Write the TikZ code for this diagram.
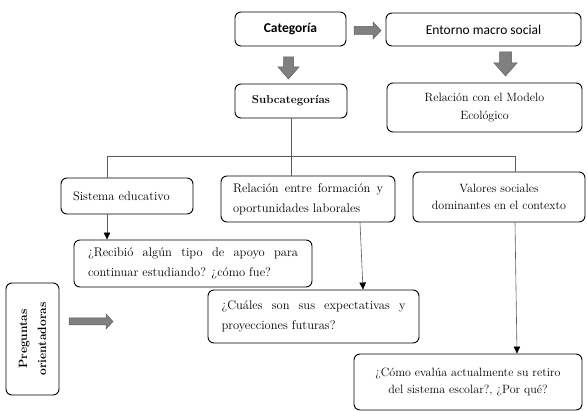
\documentclass[tikz,border=0pt]{standalone}
\usepackage{fontspec}
\newfontfamily\carlito{Carlito}
\usetikzlibrary{arrows.meta}
\definecolor{agray}{RGB}{128,128,128}
\definecolor{aedge}{RGB}{95,95,95}
\definecolor{lgray}{RGB}{90,90,90}
\hyphenpenalty=10000
\exhyphenpenalty=10000
\tolerance=9999
\begin{document}
\begin{tikzpicture}[x=1pt,y=-1pt,
  box/.style={draw=black, line width=0.9pt, rounded corners=6pt, inner sep=0pt, align=center},
  body/.style={font=\fontsize{12.5}{20}\selectfont},
  cbody/.style={font=\fontsize{12}{17.5}\selectfont},
  conn/.style={draw=lgray, line width=0.6pt},
  arr/.style={conn, -{Triangle[length=7pt,width=6.5pt,color=black]}},
  barrow/.style={fill=agray, draw=aedge, line width=0.5pt}
]
\useasboundingbox (0,0) rectangle (587,411);

% top boxes
\node[box, minimum width=111, minimum height=34, font=\carlito\bfseries\fontsize{13.5}{16}\selectfont] (cat) at (290.5,29) {Categoría};
\node[box, minimum width=195, minimum height=33, font=\carlito\fontsize{13.5}{16}\selectfont] (ent) at (483.5,29.5) {Entorno macro social};
\node[box, minimum width=112, minimum height=34, font=\bfseries\fontsize{11.5}{14}\selectfont] (sub) at (291,101) {Subcategorías};
\node[box, cbody, minimum width=195, minimum height=49] (rme) at (484.5,107.5) {Relación con el Modelo\\Ecológico};

% subcategory boxes
\node[box, body, minimum width=132, minimum height=36, text width=108, align=left] (sis) at (127,196) {Sistema educativo};
\node[box, body, minimum width=174, minimum height=46, text width=150, align=justify] (rel) at (308,199) {Relación entre formación y oportunidades laborales};
\node[box, cbody, minimum width=172, minimum height=50] (val) at (499,197) {Valores sociales\\dominantes en el contexto};

% question boxes
\node[box, body, minimum width=238, minimum height=47, text width=210, align=justify] (rec) at (193,263.5) {¿Recibió algún tipo de apoyo para continuar estudiando? ¿cómo fue?};
\node[box, body, minimum width=211, minimum height=53, text width=184, align=justify] (cua) at (313.5,316.5) {¿Cuáles son sus expectativas y proyecciones futuras?};
\node[box, cbody, minimum width=228, minimum height=56] (ret) at (468,382) {¿Cómo evalúa actualmente su retiro\\del sistema escolar?, ¿Por qué?};
\node[box, rotate=90, minimum width=112, minimum height=53, font=\bfseries\fontsize{12}{19}\selectfont] (pre) at (32.5,339) {Preguntas\\orientadoras};

% tree connectors
\coordinate (hl) at (107,156);
\coordinate (hr) at (515,156);
\draw[conn] (sub.south) -- (sub.south |- hl);
\draw[conn] (hl) -- (hr);
\draw[conn] (hl) -- (hl |- sis.north);
\draw[conn] (sub.south |- hl) -- (sub.south |- rel.north);
\draw[conn] (hr) -- (hr |- val.north);

% arrows to questions
\draw[arr] (hl |- sis.south) -- (hl |- rec.north);
\draw[arr] ([xshift=52]rel.south) -- ([xshift=49.5]cua.north);
\draw[arr] (hr |- val.south) -- ([xshift=49]ret.north);

% block arrows
\draw[barrow] (354,26.5) -- (373,26.5) -- (373,22) -- (381,30.5) -- (373,39) -- (373,34.5) -- (354,34.5) -- cycle;
\draw[barrow] (283.5,57) -- (293.5,57) -- (293.5,67) -- (299,67) -- (288.5,79) -- (278,67) -- (283.5,67) -- cycle;
\draw[barrow] (499.5,52) -- (511.5,52) -- (511.5,63) -- (517,63) -- (505.5,76) -- (494,63) -- (499.5,63) -- cycle;
\draw[barrow] (69,318) -- (106,318) -- (106,314) -- (113,321.5) -- (106,329) -- (106,325) -- (69,325) -- cycle;
\end{tikzpicture}
\end{document}
